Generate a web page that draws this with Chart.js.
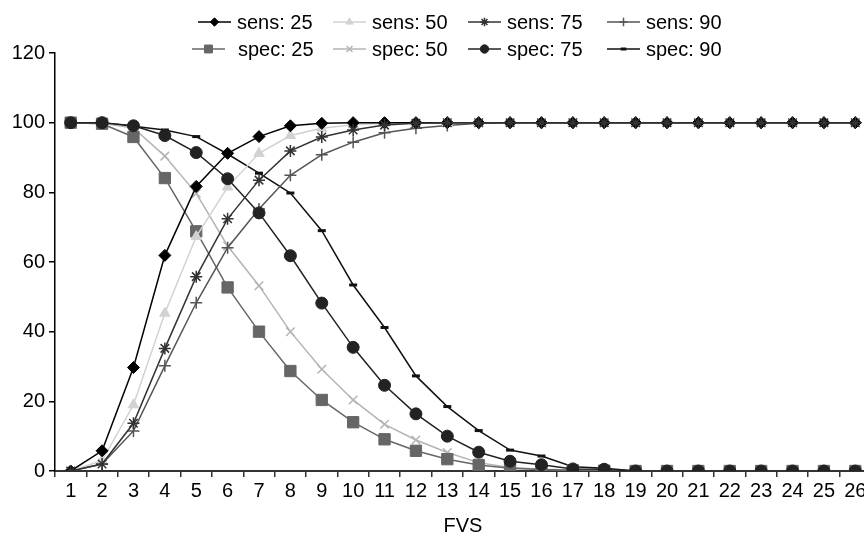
<!DOCTYPE html>
<html><head><meta charset="utf-8">
<script src="https://cdn.jsdelivr.net/npm/chart.js@4"></script>
<style>
html,body{margin:0;padding:0;background:#fff;overflow:hidden;width:864px;height:536px}
#wrap{position:absolute;left:0;top:0;width:880px;height:536px}
#legend{position:absolute;left:0;top:0;width:864px;height:64px;font-family:"Liberation Sans",Arial,sans-serif;font-size:20px;color:#000}
.item{position:absolute;display:flex;align-items:center;height:24px;white-space:nowrap;line-height:24px}
.item canvas{margin-right:6px;display:block}
</style></head><body>
<div id="wrap"><canvas id="c" width="880" height="536"></canvas></div>
<div id="legend"></div>
<script>
const categories = ['1','2','3','4','5','6','7','8','9','10','11','12','13','14','15','16','17','18','19','20','21','22','23','24','25','26'];
const yTicks = [0, 20, 40, 60, 80, 100, 120];
const seriesNames = ['sens: 25','sens: 50','sens: 75','sens: 90','spec: 25','spec: 50','spec: 75','spec: 90'];

const sens25 = [0, 5.8, 29.7, 61.9, 81.7, 91.2, 96.0, 99.1, 99.8, 100, 100, 100, 100, 100, 100, 100, 100, 100, 100, 100, 100, 100, 100, 100, 100, 100];
const sens50 = [0, 3.0, 19.0, 45.3, 67.3, 81.5, 91.2, 96.3, 98.4, 99.4, 99.8, 100, 100, 100, 100, 100, 100, 100, 100, 100, 100, 100, 100, 100, 100, 100];
const sens75 = [0, 2.0, 13.7, 35.2, 55.8, 72.4, 83.5, 91.9, 95.9, 97.9, 99.3, 99.8, 100, 100, 100, 100, 100, 100, 100, 100, 100, 100, 100, 100, 100, 100];
const sens90 = [0, 2.0, 11.5, 30.2, 48.3, 64.1, 75.2, 84.9, 90.8, 94.4, 97.1, 98.4, 99.2, 99.8, 100, 100, 100, 100, 100, 100, 100, 100, 100, 100, 100, 100];
const spec25 = [100, 99.7, 95.9, 84.1, 68.8, 52.7, 40.0, 28.7, 20.4, 14.0, 9.1, 5.8, 3.4, 1.7, 0.8, 0.4, 0.2, 0.1, 0, 0, 0, 0, 0, 0, 0, 0];
const spec50 = [100, 99.8, 98.5, 90.4, 79.7, 64.6, 53.2, 40.0, 29.2, 20.4, 13.4, 8.9, 5.3, 2.4, 1.0, 0.5, 0.3, 0.1, 0, 0, 0, 0, 0, 0, 0, 0];
const spec75 = [100, 100, 99.1, 96.3, 91.4, 83.9, 74.1, 61.8, 48.2, 35.5, 24.6, 16.4, 10.0, 5.4, 2.8, 1.8, 0.6, 0.5, 0, 0, 0, 0, 0, 0, 0, 0];
const spec90 = [100, 100, 99.0, 97.9, 96.0, 91.0, 85.5, 79.8, 69.0, 53.4, 41.2, 27.3, 18.5, 11.6, 6.0, 4.3, 1.2, 0.8, 0, 0, 0, 0, 0, 0, 0, 0];

const FONT = '"Liberation Sans", Arial, sans-serif';

const styles = [
  {color:'#000000', point:'rectRot', r:6, bw:1, order:1},
  {color:'#d2d2d2', point:'triangle', r:6, bw:1, order:1},
  {color:'#333333', point:'star', r:6, bw:1.5, order:0},
  {color:'#555555', point:'cross', r:6, bw:1.5, order:1},
  {color:'#666666', point:'rect', r:8, bw:1, order:1},
  {color:'#b4b4b4', point:'crossRot', r:6, bw:1.5, order:1},
  {color:'#222222', point:'circle', r:6, bw:1, order:0},
  {color:'#111111', point:'line', r:4, bw:3, order:1}
];
const allData = [sens25, sens50, sens75, sens90, spec25, spec50, spec75, spec90];

const datasets = allData.map((d, i) => {
  const s = styles[i];
  return {
    label: seriesNames[i], data: d,
    borderColor: s.color, backgroundColor: s.color,
    pointBackgroundColor: s.color, pointBorderColor: s.color,
    pointStyle: s.point, pointRadius: s.r, pointHoverRadius: s.r,
    pointBorderWidth: s.bw, borderWidth: 1.5, tension: 0, fill: false, order: s.order
  };
});

new Chart(document.getElementById('c'), {
  type: 'line',
  data: { labels: categories, datasets },
  options: {
    responsive: false, animation: false,
    layout: { padding: { top: 53, right: 8, left: 0, bottom: 0 } },
    plugins: { legend: { display: false }, tooltip: { enabled: false } },
    scales: {
      x: {
        type: 'category', offset: true,
        grid: { offset: true, drawOnChartArea: false, drawTicks: true, tickLength: 6, color: '#333', lineWidth: 1.5 },
        border: { display: true, color: '#333', width: 2 },
        ticks: { color: '#000', font: { size: 20, family: FONT }, padding: 2, maxRotation: 0, autoSkip: false },
        title: { display: true, text: 'FVS', color: '#000', font: { size: 20, family: FONT, lineHeight: 1 }, padding: { top: 10, bottom: 0 } },
        afterFit(s) { s.height = 65; }
      },
      y: {
        min: 0, max: 120,
        afterBuildTicks(s) { s.ticks = yTicks.map(v => ({ value: v })); },
        ticks: { color: '#000', font: { size: 20, family: FONT }, padding: 4 },
        grid: { drawOnChartArea: false, drawTicks: true, tickLength: 6, color: '#000', lineWidth: 1.5 },
        border: { display: true, color: '#000', width: 1.5 },
        afterFit(s) { s.width = 55; }
      }
    }
  }
});

// HTML legend
const legend = document.getElementById('legend');
const colLeft = [198, 333, 468, 607];
const rowTop = [10, 37];
seriesNames.forEach((name, i) => {
  const s = styles[i];
  const item = document.createElement('div');
  item.className = 'item';
  let left = colLeft[i % 4];
  const cv = document.createElement('canvas');
  cv.width = 33; cv.height = 16;
  if (i === 4) { left = 192; cv.style.marginRight = '13px'; }
  item.style.left = left + 'px';
  item.style.top = rowTop[Math.floor(i / 4)] + 'px';
  const ctx = cv.getContext('2d');
  ctx.strokeStyle = s.color; ctx.fillStyle = s.color; ctx.lineWidth = 1.5;
  ctx.beginPath(); ctx.moveTo(0, 8); ctx.lineTo(33, 8); ctx.stroke();
  ctx.lineWidth = s.bw;
  Chart.helpers.drawPoint(ctx, { pointStyle: s.point, radius: s.r * 0.7, borderWidth: s.bw, rotation: 0 }, 16.5, 8);
  item.appendChild(cv);
  const t = document.createElement('span');
  t.textContent = name;
  item.appendChild(t);
  legend.appendChild(item);
});
</script>
</body></html>
